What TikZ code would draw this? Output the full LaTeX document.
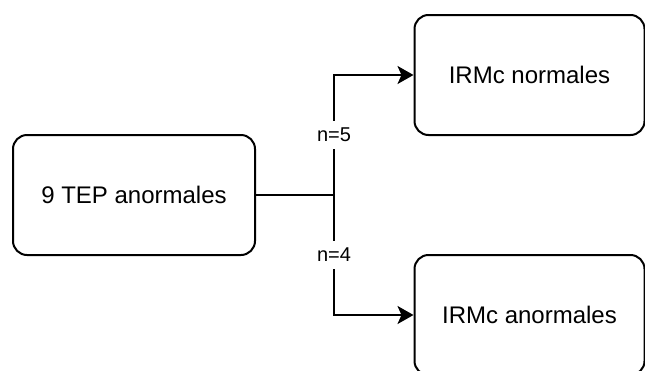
\documentclass[tikz,border=0pt]{standalone}
\usepackage{fontspec}
\setmainfont{Liberation Sans}
\usetikzlibrary{arrows.meta,positioning}

\begin{document}
\begin{tikzpicture}
[x=1pt, y=-1pt, draw=black, line width=2pt, >={Stealth[length=16pt,width=18pt,inset=4pt]},
box/.style={rectangle, draw, rounded corners=14pt, inner sep=0pt, minimum width=242pt, minimum height=120pt, font=\fontsize{24}{28}\selectfont},
rbox/.style={box, minimum width=230pt},
lbl/.style={fill=white, inner xsep=1pt, inner ysep=7pt, font=\fontsize{20}{24}\selectfont}]

\useasboundingbox (0,0) rectangle (645,370);

\node[box] (tep) at (134,195) {9 TEP anormales};
\node[rbox] (norm) at (529.5,75) {IRMc normales};
\node[rbox] (anorm) at (529.5,315) {IRMc anormales};

\coordinate (split) at (334,195);

\draw (tep.east) -- (split);
\draw[->] (split) |- (norm.west) node[lbl, pos=0.25] (n5) {n=5};
\draw[->] (split) |- (anorm.west) node[lbl, pos=0.25] (n4) {n=4};

\end{tikzpicture}
\end{document}
